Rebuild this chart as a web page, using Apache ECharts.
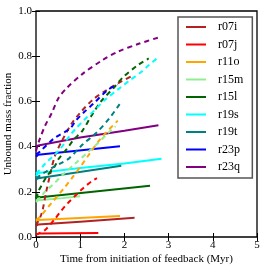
<!DOCTYPE html>
<html>
<head>
<meta charset="utf-8">
<script src="https://cdn.jsdelivr.net/npm/echarts@6/dist/echarts.min.js"></script>
<style>html,body{margin:0;padding:0;background:#fff}#c{width:266px;height:272px}</style>
</head>
<body>
<div id="c"></div>
<script>
// Names and colours of the simulations
const names = ['r07i','r07j','r11o','r15m','r15l','r19s','r19t','r23p','r23q'];
const colors = ['#b22222','#ff0000','#ffa500','#90ee90','#006400','#00ffff','#008080','#0000ff','#800080'];
const xTicks = [0,1,2,3,4,5];
const yTicks = [0.0,0.2,0.4,0.6,0.8,1.0];

// Solid curves [time (Myr), unbound mass fraction]
const r07iSolid = [[0,0.05],[0.05,0.055],[1.0,0.068],[2.23,0.085]];
const r07jSolid = [[0,0.012],[0.1,0.016],[1.41,0.018]];
const r11oSolid = [[0,0.07],[0.05,0.075],[1.9,0.093]];
const r15mSolid = [[0,0.155],[0.05,0.163],[0.6,0.172],[1.0,0.18]];
const r15lSolid = [[0,0.17],[0.03,0.18],[0.1,0.176],[2.58,0.227]];
const r19sSolid = [[0,0.27],[0.05,0.283],[1.0,0.305],[2.0,0.325],[2.84,0.346]];
const r19tSolid = [[0,0.255],[0.05,0.26],[1.93,0.315]];
const r23pSolid = [[0,0.355],[0.05,0.364],[1.9,0.402]];
const r23qSolid = [[0,0.40],[0.05,0.405],[1.0,0.44],[2.0,0.47],[2.77,0.494]];

// Dashed curves
const r07iDash = [[0,0.05],[0.1,0.09],[0.15,0.12],[0.23,0.2],[0.3,0.26],[0.43,0.36],[0.6,0.43],[0.8,0.5],[1.0,0.55],[1.3,0.61],[1.6,0.65],[1.9,0.685],[2.15,0.71]];
const r07jDash = [[0,0.01],[0.2,0.03],[0.42,0.078],[0.57,0.116],[0.72,0.15],[0.9,0.185],[1.06,0.215],[1.25,0.245],[1.38,0.26]];
const r11oDash = [[0,0.075],[0.1,0.09],[0.2,0.115],[0.35,0.15],[0.65,0.22],[0.85,0.27],[1.0,0.31],[1.2,0.365],[1.4,0.42],[1.6,0.465],[1.85,0.515]];
const r15mDash = [[0,0.16],[0.1,0.175],[0.2,0.2],[0.4,0.235],[0.6,0.275],[0.87,0.322],[1.2,0.38],[1.4,0.415],[1.6,0.455],[1.8,0.49]];
const r15lDash = [[0,0.17],[0.05,0.2],[0.13,0.23],[0.25,0.27],[0.43,0.315],[0.51,0.345],[0.7,0.39],[0.85,0.43],[1.05,0.47],[1.25,0.535],[1.47,0.6],[1.78,0.665],[1.96,0.705],[2.3,0.76],[2.55,0.79]];
const r19sDash = [[0,0.28],[0.1,0.3],[0.21,0.325],[0.4,0.36],[0.55,0.39],[0.77,0.45],[0.9,0.48],[1.1,0.52],[1.32,0.56],[1.55,0.605],[1.9,0.66],[2.1,0.69],[2.38,0.73],[2.55,0.76],[2.8,0.8]];
const r19tDash = [[0,0.26],[0.15,0.28],[0.4,0.31],[0.6,0.33],[0.76,0.35],[1.06,0.41],[1.36,0.46],[1.66,0.525],[1.9,0.59]];
const r23pDash = [[0,0.365],[0.1,0.38],[0.4,0.435],[0.77,0.48],[0.9,0.515],[1.1,0.555],[1.3,0.59],[1.62,0.65],[1.85,0.675]];
const r23qDash = [[0,0.38],[0.06,0.42],[0.2,0.49],[0.36,0.55],[0.51,0.615],[0.7,0.66],[1.06,0.723],[1.5,0.782],[1.84,0.819],[2.34,0.856],[2.76,0.882]];

const solids = [r07iSolid,r07jSolid,r11oSolid,r15mSolid,r15lSolid,r19sSolid,r19tSolid,r23pSolid,r23qSolid];
const dashes = [r07iDash,r07jDash,r11oDash,r15mDash,r15lDash,r19sDash,r19tDash,r23pDash,r23qDash];

const FONT = 'Liberation Serif';
const series = [];
names.forEach((n,i)=>{
  series.push({name:n,type:'line',data:solids[i],showSymbol:false,symbol:'none',
    itemStyle:{color:colors[i]},lineStyle:{color:colors[i],width:2},z:2,silent:true});
});
names.forEach((n,i)=>{
  series.push({name:n,type:'line',data:dashes[i],showSymbol:false,symbol:'none',smooth:0.3,
    itemStyle:{color:colors[i]},lineStyle:{color:colors[i],width:2,type:[5,4]},z:2,silent:true});
});

const axisCommon = {
  axisLine:{show:false},
  splitLine:{show:false},
  axisTick:{show:true,inside:true,length:4,lineStyle:{color:'#000',width:1}}
};

const chart = echarts.init(document.getElementById('c'),null,{renderer:'canvas'});
chart.setOption({
  animation:false,
  backgroundColor:'#fff',
  grid:{left:36,top:11,width:221,height:226,show:true,borderColor:'#000',borderWidth:1.3,
    backgroundColor:'transparent',containLabel:false,outerBoundsMode:'none'},
  xAxis:[
    Object.assign({type:'value',min:xTicks[0],max:xTicks[xTicks.length-1],interval:1,position:'bottom',
      name:'Time from initiation of feedback (Myr)',nameLocation:'middle',nameGap:17,nameMoveOverlap:false,
      nameTextStyle:{fontFamily:FONT,fontSize:11,color:'#000'},
      axisLabel:{fontFamily:FONT,fontSize:11,color:'#000',margin:3}},axisCommon),
    Object.assign({type:'value',min:xTicks[0],max:xTicks[xTicks.length-1],interval:1,position:'top',
      axisLabel:{show:false}},axisCommon)
  ],
  yAxis:[
    Object.assign({type:'value',min:yTicks[0],max:yTicks[yTicks.length-1],interval:0.2,position:'left',
      name:'Unbound mass fraction',nameLocation:'middle',nameGap:22,nameMoveOverlap:false,
      nameTextStyle:{fontFamily:FONT,fontSize:11,color:'#000'},
      axisLabel:{fontFamily:FONT,fontSize:11,color:'#000',margin:4,formatter:v=>v.toFixed(1)}},axisCommon),
    Object.assign({type:'value',min:yTicks[0],max:yTicks[yTicks.length-1],interval:0.2,position:'right',
      axisLabel:{show:false}},axisCommon)
  ],
  legend:{
    data:names, orient:'vertical', left:178, top:17,
    icon:'rect', itemWidth:20, itemHeight:2, itemGap:5.5,
    padding:[4,9,5,8],
    backgroundColor:'#fff', borderColor:'#555', borderWidth:1.5,
    textStyle:{fontFamily:FONT,fontSize:12,color:'#000',lineHeight:12,padding:[0,0,0,7]},
    selectedMode:false
  },
  series:series
});
</script>
</body>
</html>
